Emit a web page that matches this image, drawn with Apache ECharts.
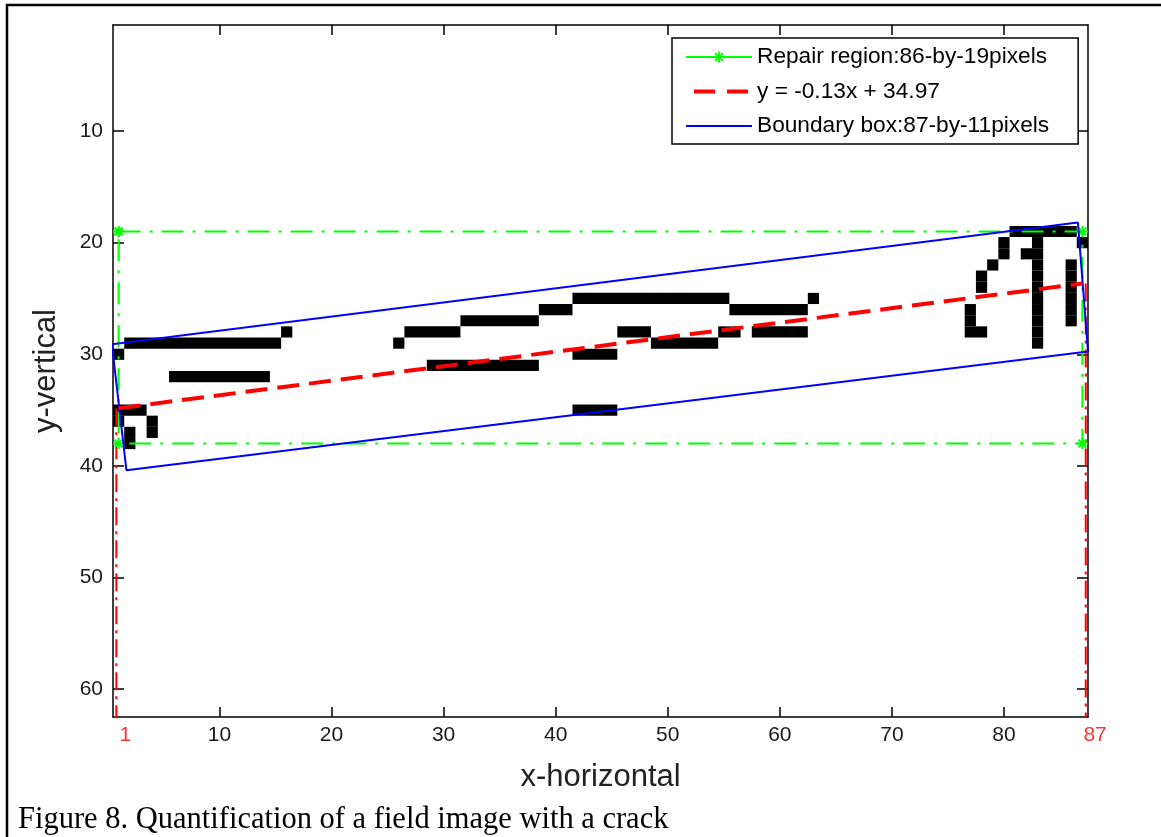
<!DOCTYPE html>
<html><head><meta charset="utf-8">
<script src="https://cdn.jsdelivr.net/npm/echarts@6/dist/echarts.min.js"></script>
<style>html,body{margin:0;padding:0;background:#fff;}#c{width:1161px;height:837px;}</style>
</head><body><div id="c"></div>
<script>
// ---- data ----
const xTicks = [10, 20, 30, 40, 50, 60, 70, 80];
const yTicks = [10, 20, 30, 40, 50, 60];
const edgeLabelX = [1, 87];
const xRange = [0.5, 87.5];
const yRange = [0.5, 62.5];
// crack pixels as horizontal runs: [row, firstCol, lastCol]
const crackRuns = [
  [19, 81, 86],
  [20, 80, 80], [20, 83, 83], [20, 87, 87],
  [21, 80, 80], [21, 82, 83],
  [22, 79, 79], [22, 83, 83], [22, 86, 86],
  [23, 78, 78], [23, 83, 83], [23, 86, 86],
  [24, 78, 78], [24, 83, 83], [24, 86, 86],
  [25, 42, 55], [25, 63, 63], [25, 83, 83], [25, 86, 86],
  [26, 39, 41], [26, 56, 62], [26, 77, 77], [26, 83, 83], [26, 86, 86],
  [27, 32, 38], [27, 77, 77], [27, 83, 83], [27, 86, 86],
  [28, 16, 16], [28, 27, 31], [28, 46, 48], [28, 55, 56], [28, 58, 62], [28, 77, 78], [28, 83, 83],
  [29, 2, 15], [29, 26, 26], [29, 49, 54], [29, 83, 83],
  [30, 1, 1], [30, 42, 45],
  [31, 29, 38],
  [32, 6, 14],
  [35, 1, 3], [35, 42, 45],
  [36, 1, 1], [36, 4, 4],
  [37, 2, 2], [37, 4, 4],
  [38, 2, 2]
];
const repairX = [1, 87, 87, 1, 1];
const repairY = [19, 19, 38, 38, 19];
const fitX = [1, 87];
const fitY = [34.84, 23.66];
const dropX = [0.8, 87.3];
const boxX = [0.4, 86.6, 87.5, 1.7, 0.4];
const boxY = [29.1, 18.2, 29.75, 40.4, 29.1];
const seriesNames = ['Repair region:86-by-19pixels', 'y = -0.13x + 34.97', 'Boundary box:87-by-11pixels'];
const caption = 'Figure 8. Quantification of a field image with a crack';

// ---- chart ----
const FONT = 'Liberation Sans, Arial, sans-serif';
const STAR = 'path://M-1,-6L1,-6L1,6L-1,6Z M-6,-1L6,-1L6,1L-6,1Z M-4.95,-3.54L-3.54,-4.95L4.95,3.54L3.54,4.95Z M3.54,-4.95L4.95,-3.54L-3.54,4.95L-4.95,3.54Z';
const zip = (xs, ys) => xs.map((x, i) => [x, ys[i]]);

const axisCommon = {
  type: 'value', splitLine: { show: false },
  axisLine: { show: true, onZero: false, lineStyle: { color: '#000', width: 1.5 } }
};
const chart = echarts.init(document.getElementById('c'), null, { renderer: 'canvas' });
chart.setOption({
  animation: false,
  backgroundColor: '#fff',
  title: { text: caption, left: 18, top: 804, padding: 0,
    textStyle: { fontFamily: 'Liberation Serif, serif', fontSize: 30.5, fontWeight: 'normal', color: '#000' } },
  graphic: [{ type: 'rect', shape: { x: 7, y: 5, width: 1200, height: 900 },
    style: { fill: null, stroke: '#000', lineWidth: 2.5 }, silent: true }],
  grid: { left: 113, right: 73, top: 25, bottom: 120 },
  legend: {
    data: [
      { name: seriesNames[0], lineStyle: { type: 'solid', width: 2 } },
      { name: seriesNames[1], itemStyle: { opacity: 0 }, lineStyle: { type: [21, 12], dashOffset: 25, width: 4 } },
      { name: seriesNames[2], itemStyle: { opacity: 0 }, lineStyle: { width: 2 } }
    ],
    orient: 'vertical', left: 672, top: 38, itemWidth: 66, itemHeight: 14, itemGap: 10.5,
    padding: [7, 29, 6, 12], borderColor: '#000', borderWidth: 1.5, backgroundColor: '#fff',
    textStyle: { fontFamily: FONT, fontSize: 22.7, color: '#000', lineHeight: 24 }
  },
  xAxis: [
    Object.assign({}, axisCommon, { min: xRange[0], max: xRange[1], position: 'bottom',
      name: 'x-horizontal', nameLocation: 'middle', nameGap: 45,
      nameTextStyle: { fontFamily: FONT, fontSize: 31, color: '#222' },
      axisTick: { show: true, inside: true, length: 10, customValues: xTicks, lineStyle: { color: '#000', width: 1.5 } },
      axisLabel: { show: true, customValues: xTicks, margin: 8, fontFamily: FONT, fontSize: 21, color: '#1a1a1a' } }),
    Object.assign({}, axisCommon, { min: xRange[0], max: xRange[1], position: 'top',
      axisTick: { show: true, inside: true, length: 10, customValues: xTicks, lineStyle: { color: '#000', width: 1.5 } },
      axisLabel: { show: false } })
  ],
  yAxis: [
    Object.assign({}, axisCommon, { min: yRange[0], max: yRange[1], inverse: true, position: 'left',
      name: 'y-vertical', nameLocation: 'middle', nameGap: 51, nameRotate: 90,
      nameTextStyle: { fontFamily: FONT, fontSize: 31, color: '#222' },
      axisTick: { show: true, inside: true, length: 11, customValues: yTicks, lineStyle: { color: '#000', width: 1.5 } },
      axisLabel: { show: true, customValues: yTicks, margin: 10, fontFamily: FONT, fontSize: 21, color: '#1a1a1a' } }),
    Object.assign({}, axisCommon, { min: yRange[0], max: yRange[1], inverse: true, position: 'right',
      axisTick: { show: true, inside: true, length: 11, customValues: yTicks, lineStyle: { color: '#000', width: 1.5 } },
      axisLabel: { show: false } })
  ],
  series: [
    {
      type: 'custom', name: 'crack', z: 1, clip: true, silent: true,
      data: crackRuns, encode: { x: [1, 2], y: 0 },
      renderItem: (params, api) => {
        const row = api.value(0), c0 = api.value(1), c1 = api.value(2);
        const a = api.coord([c0 - 0.5, row - 0.5]);
        const b = api.coord([c1 + 0.5, row + 0.5]);
        return { type: 'rect', shape: { x: Math.min(a[0], b[0]), y: Math.min(a[1], b[1]),
          width: Math.abs(b[0] - a[0]), height: Math.abs(b[1] - a[1]) }, style: { fill: '#000' } };
      }
    },
    {
      type: 'line', name: seriesNames[0], z: 3, data: zip(repairX, repairY),
      symbol: STAR, symbolSize: 11, showSymbol: true, clip: true,
      itemStyle: { color: '#00ff00' },
      lineStyle: { color: '#00ff00', width: 2, type: [22, 9, 3, 9] }
    },
    {
      type: 'line', name: seriesNames[1], z: 5, data: zip(fitX, fitY),
      symbol: 'none', clip: true, itemStyle: { color: '#ff0000' },
      lineStyle: { color: '#ff0000', width: 4, type: [22, 10] }
    },
    {
      type: 'line', name: seriesNames[2], z: 4, data: zip(boxX, boxY),
      symbol: 'none', clip: true, itemStyle: { color: '#0000ff' },
      lineStyle: { color: '#0000ff', width: 2 }
    },
    {
      type: 'line', name: 'drop1', z: 2, data: [[dropX[0], fitY[0]], [dropX[0], yRange[1]]],
      symbol: 'none', clip: true,
      lineStyle: { color: '#ff0000', width: 2, type: [18, 6, 3, 6] }
    },
    {
      type: 'line', name: 'drop2', z: 2, data: [[dropX[1], fitY[1]], [dropX[1], yRange[1]]],
      symbol: 'none', clip: true,
      lineStyle: { color: '#ff0000', width: 2, type: [18, 6, 3, 6] }
    },
    {
      type: 'scatter', name: 'edges', z: 6, symbolSize: 0, silent: true,
      data: edgeLabelX.map(x => [x, yRange[1]]),
      label: { show: true, position: 'bottom', distance: 8, align: 'left', offset: [1, 0],
        formatter: p => String(p.value[0]), fontFamily: FONT, fontSize: 21, color: '#ff0000' }
    }
  ]
});
</script></body></html>
